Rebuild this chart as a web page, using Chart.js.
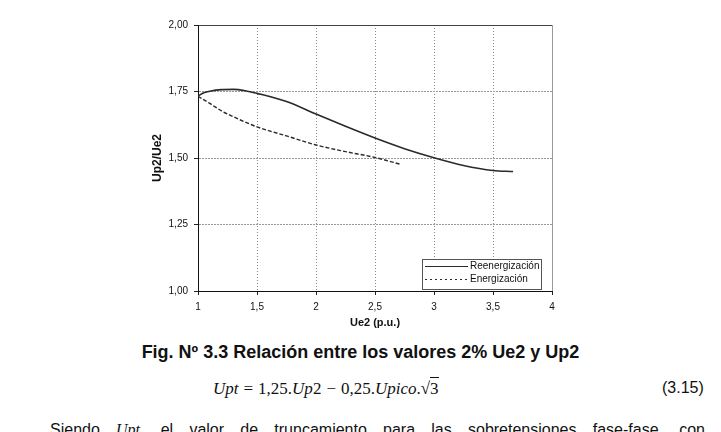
<!DOCTYPE html>
<html lang="es">
<head>
<meta charset="utf-8">
<title>Fig. Nº 3.3</title>
<script src="https://cdn.jsdelivr.net/npm/chart.js@4.4.1/dist/chart.umd.min.js"></script>
<style>
    html, body { margin: 0; padding: 0; background: #fff; }
    body { width: 721px; height: 432px; position: relative; overflow: hidden; font-family: Arial, "Liberation Sans", sans-serif; color: #111; }
    #chartWrap { position: absolute; left: 0; top: 0; width: 721px; height: 340px; }
    .caption { position: absolute; left: 0; top: 342px; width: 721px; text-align: center; font-weight: bold; font-size: 18px; line-height: 20px; }
    .eq { position: absolute; left: 213px; top: 379px; font-family: "Liberation Serif", "Times New Roman", serif; font-size: 17px; line-height: 19px; white-space: nowrap; }
    .eq i { font-style: italic; }
    .eq .op { margin: 0 5px; }
    .ov { border-top: 1px solid #111; padding-top: 1px; }
    .eqnum { position: absolute; left: 662px; top: 379px; font-size: 16px; line-height: 18px; }
    .para { position: absolute; left: 50px; top: 421px; width: 655px; font-size: 16px; line-height: 18px; text-align: justify; text-align-last: justify; }
    .para i { font-family: "Liberation Serif", serif; }
</style>
</head>
<body>
<div id="chartWrap"><canvas id="lineChart"></canvas></div>
<div class="caption">Fig. Nº 3.3 Relación entre los valores 2% Ue2 y Up2</div>
<div class="eq"><i>Upt</i><span class="op">=</span>1,25.<i>Up</i>2<span class="op">−</span>0,25.<i>Upico</i>.√<span class="ov">3</span></div>
<div class="eqnum">(3.15)</div>
<div class="para">Siendo <i>Upt</i>, el valor de truncamiento para las sobretensiones fase-fase, con</div>

<script>
// ===== DATA =====
const seriesNames = ['Reenergización', 'Energización'];

const reenerX = [1.0, 1.05, 1.1, 1.2, 1.3, 1.4, 1.5, 1.75, 2.0, 2.25, 2.5, 2.75, 3.0, 3.25, 3.5, 3.67];
const reenerY = [1.733, 1.745, 1.751, 1.757, 1.758, 1.753, 1.743, 1.712, 1.665, 1.619, 1.575, 1.535, 1.501, 1.472, 1.453, 1.449];

const enerX = [1.0, 1.1, 1.2, 1.3, 1.4, 1.5, 1.75, 2.0, 2.25, 2.5, 2.71];
const enerY = [1.732, 1.705, 1.677, 1.655, 1.635, 1.617, 1.583, 1.549, 1.524, 1.502, 1.477];

const xTicks = [1, 1.5, 2, 2.5, 3, 3.5, 4];
const xTickLabels = ['1', '1,5', '2', '2,5', '3', '3,5', '4'];
const yTicks = [1, 1.25, 1.5, 1.75, 2];
const yTickLabels = ['1,00', '1,25', '1,50', '1,75', '2,00'];

function toPoints(xs, ys) {
    return xs.map((x, i) => ({ x, y: ys[i] }));
}

function tickLabel(ticks, labels, value) {
    const idx = ticks.indexOf(value);
    return idx >= 0 ? labels[idx] : '';
}

// Legend drawn as a small framed box inside the plot (Excel style)
const boxLegend = {
    id: 'boxLegend',
    afterDatasetsDraw(chart) {
        const { ctx, chartArea } = chart;
        const w = 119, h = 30;
        const x0 = Math.round(chartArea.right - 11 - w);
        const y0 = Math.round(chartArea.bottom - 2 - h);
        const dashes = [[], [2, 3]];

        ctx.save();
        ctx.fillStyle = '#fff';
        ctx.fillRect(x0, y0, w, h);
        ctx.strokeStyle = '#555';
        ctx.lineWidth = 1;
        ctx.strokeRect(x0 + 0.5, y0 + 0.5, w, h);

        chart.data.datasets.forEach((ds, i) => {
            const y = y0 + 7.5 + i * 13;
            ctx.beginPath();
            ctx.setLineDash(dashes[i]);
            ctx.strokeStyle = ds.borderColor;
            ctx.lineWidth = 1.2;
            ctx.moveTo(x0 + 3, y);
            ctx.lineTo(x0 + 46, y);
            ctx.stroke();
            ctx.setLineDash([]);
            ctx.fillStyle = '#111';
            ctx.font = '10px Arial, "Liberation Sans", sans-serif';
            ctx.textBaseline = 'middle';
            ctx.fillText(ds.label, x0 + 48, y);
        });
        ctx.restore();
    }
};

function renderChart() {
    const ctx = document.getElementById('lineChart');
    const tickFont = { family: 'Arial, "Liberation Sans", sans-serif', size: 10 };

    const cfg = {
        type: 'line',
        data: {
            datasets: [{
                label: seriesNames[0],
                data: toPoints(reenerX, reenerY),
                borderColor: '#2a2a2a',
                borderWidth: 1.6,
                pointRadius: 0,
                cubicInterpolationMode: 'monotone',
                fill: false
            }, {
                label: seriesNames[1],
                data: toPoints(enerX, enerY),
                borderColor: '#2a2a2a',
                borderWidth: 1.4,
                borderDash: [4, 2],
                pointRadius: 0,
                cubicInterpolationMode: 'monotone',
                fill: false
            }]
        },
        options: {
            responsive: true,
            maintainAspectRatio: false,
            animation: false,
            layout: { padding: { left: 148, right: 169, top: 25, bottom: 8 } },
            plugins: {
                legend: { display: false },
                tooltip: { enabled: false }
            },
            scales: {
                x: {
                    type: 'linear',
                    min: 1,
                    max: 4,
                    afterFit: (scale) => { scale.height = 41; },
                    ticks: {
                        stepSize: 0.5,
                        color: '#111',
                        font: tickFont,
                        padding: 6,
                        maxRotation: 0,
                        callback: (v) => tickLabel(xTicks, xTickLabels, v)
                    },
                    grid: {
                        color: (c) => c.tick && c.tick.value === 4 ? '#999' : '#888',
                        tickLength: 4,
                        tickColor: '#222'
                    },
                    border: {
                        color: '#111',
                        width: 1,
                        dash: (c) => c.tick && c.tick.value === 4 ? [] : [1, 2]
                    },
                    title: {
                        display: true,
                        text: 'Ue2 (p.u.)',
                        color: '#111',
                        font: { family: 'Arial, "Liberation Sans", sans-serif', size: 11, weight: 'bold' },
                        padding: { top: 0, bottom: 2 }
                    }
                },
                y: {
                    min: 1,
                    max: 2,
                    afterFit: (scale) => { scale.width = 50; },
                    ticks: {
                        stepSize: 0.25,
                        color: '#111',
                        font: tickFont,
                        padding: 6,
                        callback: (v) => tickLabel(yTicks, yTickLabels, v)
                    },
                    grid: {
                        color: (c) => c.tick && c.tick.value === 2 ? '#444' : '#999',
                        tickLength: 4,
                        tickColor: '#222'
                    },
                    border: {
                        color: '#111',
                        width: 1,
                        dash: (c) => c.tick && c.tick.value === 2 ? [] : [2, 1]
                    },
                    title: {
                        display: true,
                        text: 'Up2/Ue2',
                        color: '#111',
                        font: { family: 'Arial, "Liberation Sans", sans-serif', size: 12, weight: 'bold' },
                        padding: { top: 2, bottom: 0 }
                    }
                }
            }
        },
        plugins: [boxLegend]
    };

    new Chart(ctx, cfg);
}

window.addEventListener('DOMContentLoaded', renderChart);
</script>
</body>
</html>
